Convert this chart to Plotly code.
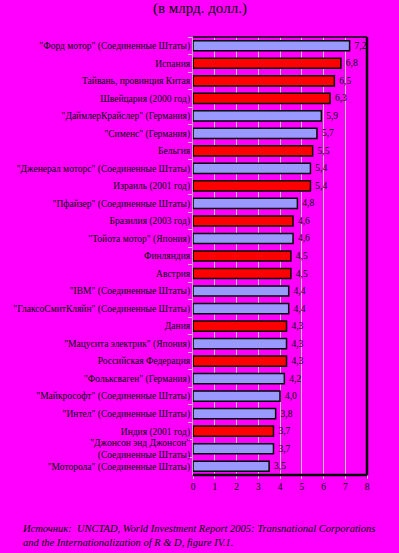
import plotly.graph_objects as go

labels = [
    '"Форд мотор" (Соединенные Штаты)',
    'Испания',
    'Тайвань, провинция Китая',
    'Швейцария (2000 год)',
    '"ДаймлерКрайслер" (Германия)',
    '"Сименс" (Германия)',
    'Бельгия',
    '"Дженерал моторс" (Соединенные Штаты)',
    'Израиль (2001 год)',
    '"Пфайзер" (Соединенные Штаты)',
    'Бразилия (2003 год)',
    '"Тойота мотор" (Япония)',
    'Финляндия',
    'Австрия',
    '"IBM" (Соединенные Штаты)',
    '"ГлаксоСмитКляйн" (Соединенные Штаты)',
    'Дания',
    '"Мацусита электрик" (Япония)',
    'Российская Федерация',
    '"Фольксваген" (Германия)',
    '"Майкрософт" (Соединенные Штаты)',
    '"Интел" (Соединенные Штаты)',
    'Индия (2001 год)',
    '"Джонсон энд Джонсон"<br>(Соединенные Штаты)',
    '"Моторола" (Соединенные Штаты)',
]
values = [7.2, 6.8, 6.5, 6.3, 5.9, 5.7, 5.5, 5.4, 5.4, 4.8, 4.6, 4.6, 4.5, 4.5,
          4.4, 4.4, 4.3, 4.3, 4.3, 4.2, 4.0, 3.8, 3.7, 3.7, 3.5]
# "c" = company (purple), "k" = country (red)
kinds = ["c", "k", "k", "k", "c", "c", "k", "c", "k", "c", "k", "c", "k", "k",
         "c", "c", "k", "c", "k", "c", "c", "c", "k", "c", "c"]
x_ticks = [0, 1, 2, 3, 4, 5, 6, 7, 8]

title_text = "(в млрд. долл.)"
source_line1 = "<i>Источник:  UNCTAD, World Investment Report 2005: Transnational Corporations</i>"
source_line2 = "<i>and the Internationalization of R &amp; D, figure IV.1.</i>"

color_map = {"c": "#9999ff", "k": "#ff0000"}
colors = [color_map[k] for k in kinds]
texts = ["\u2009" + f"{v:.1f}".replace(".", ",") for v in values]

MAG = "#ff00ff"
FONT = "Liberation Serif"
L, R, T, B = 193, 32, 37, 78
PW, PH = 399 - L - R, 553 - T - B

fig = go.Figure()
fig.add_trace(go.Bar(
    x=values, y=labels, orientation="h",
    marker=dict(color=colors, line=dict(color="#000000", width=1.5)),
    text=texts, textposition="outside", cliponaxis=False,
    textfont=dict(family=FONT, size=9.5, color="#000000"),
    width=0.58,
))

fig.update_layout(
    width=399, height=553, autosize=False,
    paper_bgcolor=MAG, plot_bgcolor=MAG,
    margin=dict(l=L, r=R, t=T, b=B),
    showlegend=False,
    font=dict(family=FONT, size=9.5, color="#000000"),
    xaxis=dict(range=[0, 8], tickvals=x_ticks, ticktext=[str(t) for t in x_ticks],
               showgrid=True, gridcolor="#c8c8c8", gridwidth=1,
               zeroline=False, showline=False,
               ticks="outside", ticklen=3, tickcolor="#c8c8c8",
               tickfont=dict(family=FONT, size=9.5, color="#000000"), fixedrange=True),
    yaxis=dict(autorange="reversed", showgrid=False, zeroline=False,
               showline=True, linecolor="#b0b0b0", linewidth=1,
               ticks="outside", ticklen=4, tickcolor="#c8c8c8", tickson="boundaries",
               tickfont=dict(family=FONT, size=9.5, color="#000000"), fixedrange=True),
    bargap=0.42,
)

# frame lines: right and bottom thick black, top thin black
fig.add_shape(type="line", xref="paper", yref="paper", x0=1, x1=1, y0=0, y1=1,
              line=dict(color="#000000", width=2.5))
fig.add_shape(type="line", xref="paper", yref="paper", x0=0, x1=1, y0=0, y1=0,
              line=dict(color="#000000", width=2.5))
fig.add_shape(type="line", xref="paper", yref="paper", x0=0, x1=1, y0=1, y1=1,
              line=dict(color="#000000", width=1.5))

fig.add_annotation(text=title_text, xref="paper", yref="paper", x=(200 - L) / PW,
                   y=1 + (T - 8) / PH, xanchor="center", yanchor="middle",
                   showarrow=False, font=dict(family=FONT, size=15, color="#000000"))
fig.add_annotation(text=source_line1 + "<br>" + source_line2, xref="paper", yref="paper",
                   x=(20 - L) / PW, y=-(521 - (553 - B)) / PH, xanchor="left", yanchor="top",
                   align="left", showarrow=False,
                   font=dict(family=FONT, size=10.5, color="#000000"))

fig.write_html("out.html", config={"displayModeBar": False},
               post_script="document.body.style.margin='0';document.body.style.background='#ff00ff';")
